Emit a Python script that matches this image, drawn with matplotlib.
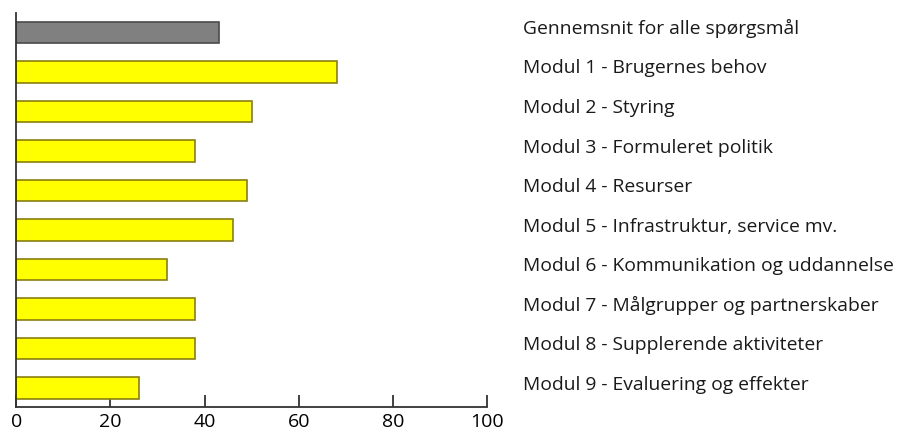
import matplotlib
matplotlib.use("Agg")
import matplotlib.pyplot as plt
from matplotlib.transforms import blended_transform_factory

labels = [
    "Gennemsnit for alle spørgsmål",
    "Modul 1 - Brugernes behov",
    "Modul 2 - Styring",
    "Modul 3 - Formuleret politik",
    "Modul 4 - Resurser",
    "Modul 5 - Infrastruktur, service mv.",
    "Modul 6 - Kommunikation og uddannelse",
    "Modul 7 - Målgrupper og partnerskaber",
    "Modul 8 - Supplerende aktiviteter",
    "Modul 9 - Evaluering og effekter",
]
values = [43, 68, 50, 38, 49, 46, 32, 38, 38, 26]
xticks = [0, 20, 40, 60, 80, 100]

plt.rcParams["font.family"] = ["Open Sans", "DejaVu Sans"]

W, H = 906, 432
fig = plt.figure(figsize=(W / 100, H / 100), dpi=100)
x0, x1 = 16.2, 487.3
ytop, ybot = 13, 407
ax = fig.add_axes([x0 / W, 1 - ybot / H, (x1 - x0) / W, (ybot - ytop) / H])

face = ["#808080"] + ["#ffff00"] * (len(values) - 1)
edge = ["#4a4a4a"] + ["#8a7f10"] * (len(values) - 1)
pos = list(range(len(values)))
ax.barh(pos, values, height=0.54, color=face, edgecolor=edge, linewidth=1.2, zorder=2)

ax.set_xlim(0, 100)
ax.set_ylim(9.48, -0.49)
ax.set_xticks(xticks)
ax.set_xticklabels([str(t) for t in xticks], fontsize=14)
ax.set_yticks([])
ax.tick_params(axis="x", direction="in", length=9, width=1.3, color="#333333", pad=4.5)
for s in ["top", "right"]:
    ax.spines[s].set_visible(False)
for s in ["left", "bottom"]:
    ax.spines[s].set_color("#333333")
    ax.spines[s].set_linewidth(1.3)

trans = blended_transform_factory(ax.transAxes, ax.transData)
tx = (522.7 - x0) / (x1 - x0)
for i, lab in enumerate(labels):
    ax.text(tx, i + 0.04, lab, transform=trans, ha="left", va="baseline",
            fontsize=13.9, color="#1a1a1a", clip_on=False)

fig.savefig("out.png", dpi=100)
